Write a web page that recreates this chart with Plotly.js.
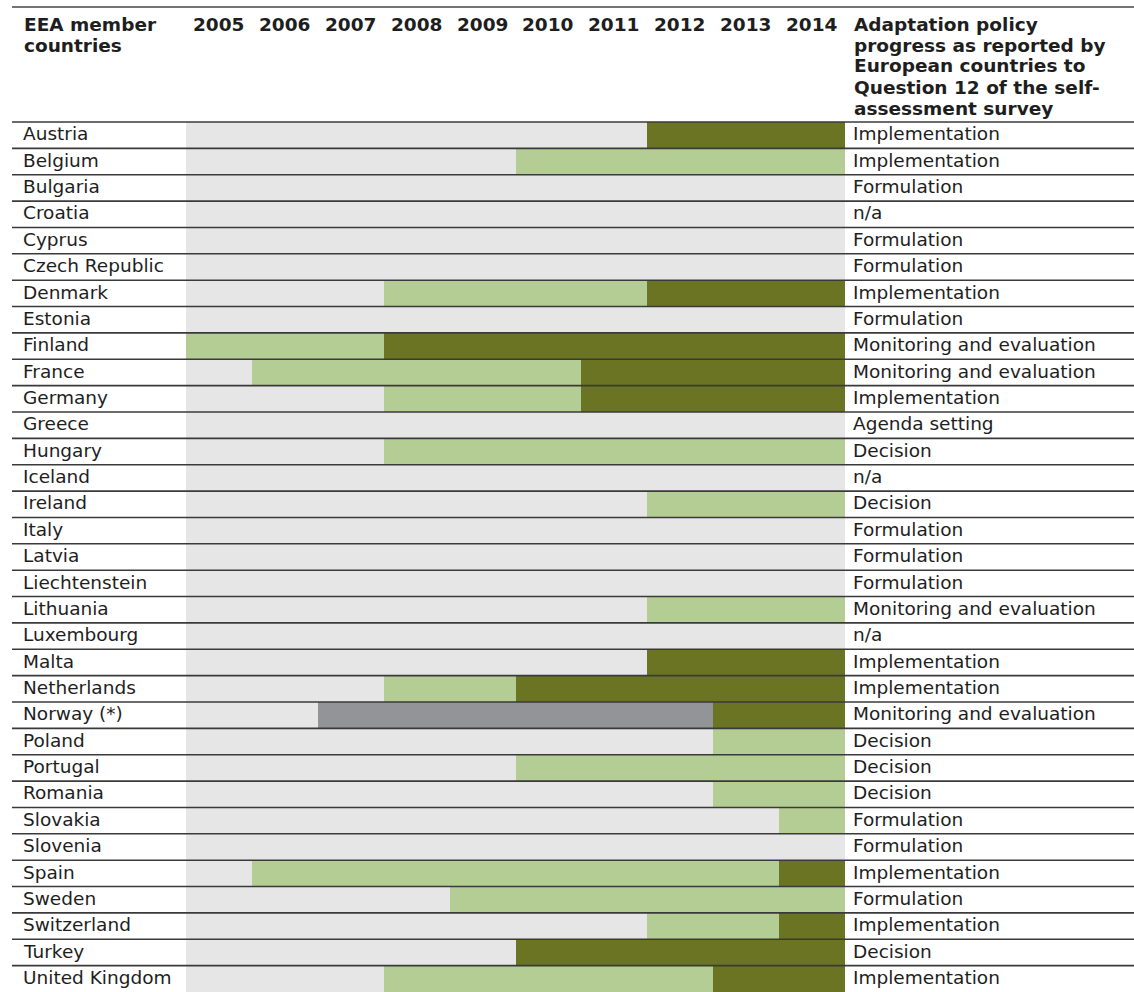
<!DOCTYPE html>
<html>
<head>
<meta charset="utf-8">
<script src="https://cdn.plot.ly/plotly-3.0.1.min.js"></script>
<style>html,body{margin:0;padding:0;background:#fff;}#chart{width:1134px;height:992px;}</style>
</head>
<body>
<div id="chart"></div>
<script>
// 0 = no activity (light grey), 1 = light green, 2 = dark green, 3 = dark grey
const years = ['2005','2006','2007','2008','2009','2010','2011','2012','2013','2014'];
const countries = ['Austria','Belgium','Bulgaria','Croatia','Cyprus','Czech Republic','Denmark','Estonia','Finland','France','Germany','Greece','Hungary','Iceland','Ireland','Italy','Latvia','Liechtenstein','Lithuania','Luxembourg','Malta','Netherlands','Norway (*)','Poland','Portugal','Romania','Slovakia','Slovenia','Spain','Sweden','Switzerland','Turkey','United Kingdom'];
const progress = ['Implementation','Implementation','Formulation','n/a','Formulation','Formulation','Implementation','Formulation','Monitoring and evaluation','Monitoring and evaluation','Implementation','Agenda setting','Decision','n/a','Decision','Formulation','Formulation','Formulation','Monitoring and evaluation','n/a','Implementation','Implementation','Monitoring and evaluation','Decision','Decision','Decision','Formulation','Formulation','Implementation','Formulation','Implementation','Decision','Implementation'];
const leftHeader = ['EEA member','countries'];
const rightHeader = ['Adaptation policy','progress as reported by','European countries to','Question 12 of the self-','assessment survey'];
const stages = [
  [0,0,0,0,0,0,0,2,2,2], // Austria
  [0,0,0,0,0,1,1,1,1,1], // Belgium
  [0,0,0,0,0,0,0,0,0,0], // Bulgaria
  [0,0,0,0,0,0,0,0,0,0], // Croatia
  [0,0,0,0,0,0,0,0,0,0], // Cyprus
  [0,0,0,0,0,0,0,0,0,0], // Czech Republic
  [0,0,0,1,1,1,1,2,2,2], // Denmark
  [0,0,0,0,0,0,0,0,0,0], // Estonia
  [1,1,1,2,2,2,2,2,2,2], // Finland
  [0,1,1,1,1,1,2,2,2,2], // France
  [0,0,0,1,1,1,2,2,2,2], // Germany
  [0,0,0,0,0,0,0,0,0,0], // Greece
  [0,0,0,1,1,1,1,1,1,1], // Hungary
  [0,0,0,0,0,0,0,0,0,0], // Iceland
  [0,0,0,0,0,0,0,1,1,1], // Ireland
  [0,0,0,0,0,0,0,0,0,0], // Italy
  [0,0,0,0,0,0,0,0,0,0], // Latvia
  [0,0,0,0,0,0,0,0,0,0], // Liechtenstein
  [0,0,0,0,0,0,0,1,1,1], // Lithuania
  [0,0,0,0,0,0,0,0,0,0], // Luxembourg
  [0,0,0,0,0,0,0,2,2,2], // Malta
  [0,0,0,1,1,2,2,2,2,2], // Netherlands
  [0,0,3,3,3,3,3,3,2,2], // Norway
  [0,0,0,0,0,0,0,0,1,1], // Poland
  [0,0,0,0,0,1,1,1,1,1], // Portugal
  [0,0,0,0,0,0,0,0,1,1], // Romania
  [0,0,0,0,0,0,0,0,0,1], // Slovakia
  [0,0,0,0,0,0,0,0,0,0], // Slovenia
  [0,1,1,1,1,1,1,1,1,2], // Spain
  [0,0,0,0,1,1,1,1,1,1], // Sweden
  [0,0,0,0,0,0,0,1,1,2], // Switzerland
  [0,0,0,0,0,2,2,2,2,2], // Turkey
  [0,0,0,1,1,1,1,1,2,2]  // United Kingdom
];

const W = 1134, H = 992;
const plotL = 186, plotR = 845, plotT = 122, plotB = 992;
const pw = plotR - plotL, ph = plotB - plotT;
const px = v => (v - plotL) / pw;      // pixel x -> paper
const py = v => (plotB - v) / ph;      // pixel y -> paper

const FONT = 'DejaVu Sans, Verdana, sans-serif';
const TXT = '#1e1e1e';
const FS = 18.5;
const n = countries.length;

const trace = {
  type: 'heatmap',
  z: stages,
  x: years.map((_, i) => i),
  y: countries.map((_, i) => i),
  zmin: 0, zmax: 3,
  colorscale: [[0,'#e6e6e6'],[0.25,'#e6e6e6'],[0.25,'#b3cd94'],[0.5,'#b3cd94'],[0.5,'#6a7423'],[0.75,'#6a7423'],[0.75,'#939497'],[1,'#939497']],
  showscale: false,
  hoverinfo: 'skip',
  xgap: 0, ygap: 0
};

const annotations = [];
const shapes = [];
// header
leftHeader.forEach((t, i) => {
  annotations.push({xref:'paper', yref:'paper', x: px(22), y: py(24 + i * 21), xanchor:'left', yanchor:'middle', showarrow:false,
    text:'<b>' + t + '</b>', font:{family:FONT, size:FS, color:TXT}});
});
rightHeader.forEach((t, i) => {
  annotations.push({xref:'paper', yref:'paper', x: px(852), y: py(24 + i * 21), xanchor:'left', yanchor:'middle', showarrow:false,
    text:'<b>' + t + '</b>', font:{family:FONT, size:FS, color:TXT}});
});
years.forEach((yr, i) => {
  annotations.push({xref:'x', yref:'paper', x: i, y: py(24), xanchor:'center', yanchor:'middle', showarrow:false,
    text:'<b>' + yr + '</b>', font:{family:FONT, size:FS, color:TXT}});
});
countries.forEach((c, i) => {
  annotations.push({xref:'paper', yref:'y', x: px(21), y: i - 0.05, xanchor:'left', yanchor:'middle', showarrow:false,
    text: c, font:{family:FONT, size:FS, color:TXT}});
  annotations.push({xref:'paper', yref:'y', x: px(851), y: i - 0.05, xanchor:'left', yanchor:'middle', showarrow:false,
    text: progress[i], font:{family:FONT, size:FS, color:TXT}});
});
// lines
shapes.push({type:'line', xref:'paper', yref:'paper', x0: px(12), x1: px(1134), y0: py(7), y1: py(7), line:{color:'#444', width:1.5}});
for (let i = 0; i < n; i++) {
  const yb = 1 - i / n;
  shapes.push({type:'line', xref:'paper', yref:'paper', x0: px(12), x1: px(1134), y0: yb, y1: yb, line:{color:'#3a3a3a', width:1.6}});
}

const layout = {
  width: W, height: H,
  margin: {l: plotL, r: W - plotR, t: plotT, b: H - plotB, pad: 0},
  paper_bgcolor: '#fff', plot_bgcolor: '#fff',
  xaxis: {range: [-0.5, 9.5], visible: false, fixedrange: true},
  yaxis: {range: [n - 0.5, -0.5], visible: false, fixedrange: true},
  annotations, shapes,
  showlegend: false
};

Plotly.newPlot('chart', [trace], layout, {displayModeBar: false, staticPlot: true});
</script>
</body>
</html>
